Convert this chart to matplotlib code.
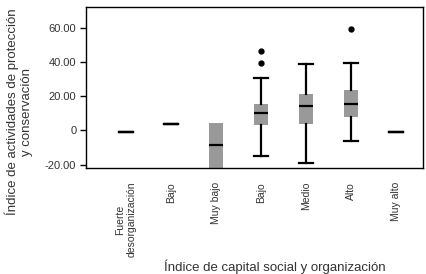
import matplotlib.pyplot as plt

plt.rcParams['font.family'] = ['Liberation Sans', 'DejaVu Sans']

categories = ['Fuerte\ndesorganización', 'Bajo', 'Muy bajo', 'Bajo', 'Medio', 'Alto', 'Muy alto']
whislo = [-1.2, 4.0, -35.0, -15.0, -19.0, -6.4, -1.2]
q1 = [-1.2, 4.0, -28.0, 2.9, 3.7, 7.8, -1.2]
med = [-1.2, 4.0, -8.6, 10.1, 14.6, 15.2, -1.2]
q3 = [-1.2, 4.0, 4.5, 15.7, 21.6, 23.9, -1.2]
whishi = [-1.2, 4.0, 4.5, 30.5, 38.7, 39.5, -1.2]
fliers = [[], [], [], [39.5, 46.8], [], [59.7], []]
yticks = [-20, 0, 20, 40, 60]
ytick_labels = ['-20.00', '0', '20.00', '40.00', '60.00']

stats = []
for i in range(len(categories)):
    stats.append(dict(whislo=whislo[i], q1=q1[i], med=med[i], q3=q3[i],
                      whishi=whishi[i], fliers=fliers[i]))

fig = plt.figure(figsize=(4.27, 2.74), dpi=100)
ax = fig.add_axes([86 / 427, 1 - 168 / 274, 337 / 427, 161 / 274])

positions = list(range(1, len(categories) + 1))
parts = ax.bxp(stats, positions=positions, widths=0.33, patch_artist=True,
               boxprops=dict(facecolor='#999999', edgecolor='none', linewidth=0),
               medianprops=dict(color='black', linewidth=1.6),
               whiskerprops=dict(color='black', linewidth=1.6),
               capprops=dict(color='black', linewidth=1.6),
               capwidths=0.33,
               flierprops=dict(marker='o', markerfacecolor='black', markeredgecolor='black',
                               markersize=3.5))

# the "Muy bajo" box has no visible upper cap
parts['caps'][2 * 2 + 1].set_visible(False)

ax.set_xlim(0.11, 7.6)
ax.set_ylim(-22, 72.3)
ax.set_yticks(yticks)
ax.set_yticklabels(ytick_labels, fontsize=8, color='#333333')
ax.set_xticks(positions)
ax.set_xticklabels(categories, rotation=90, fontsize=7.5, color='#333333',
                   va='top', ha='center', multialignment='center')
ax.tick_params(axis='x', length=0, pad=10)
ax.tick_params(axis='y', length=4, width=1, pad=3)
for s in ax.spines.values():
    s.set_linewidth(1)

fig.text(19 / 427, 1 - 112 / 274, 'Índice de actividades de protección\ny conservación',
         rotation=90, ha='center', va='center', multialignment='center',
         fontsize=9.5, color='#333333')
fig.text(275 / 427, 1 - 267 / 274, 'Índice de capital social y organización',
         ha='center', va='center', fontsize=9.5, color='#333333')

fig.savefig('out.png', dpi=100)
